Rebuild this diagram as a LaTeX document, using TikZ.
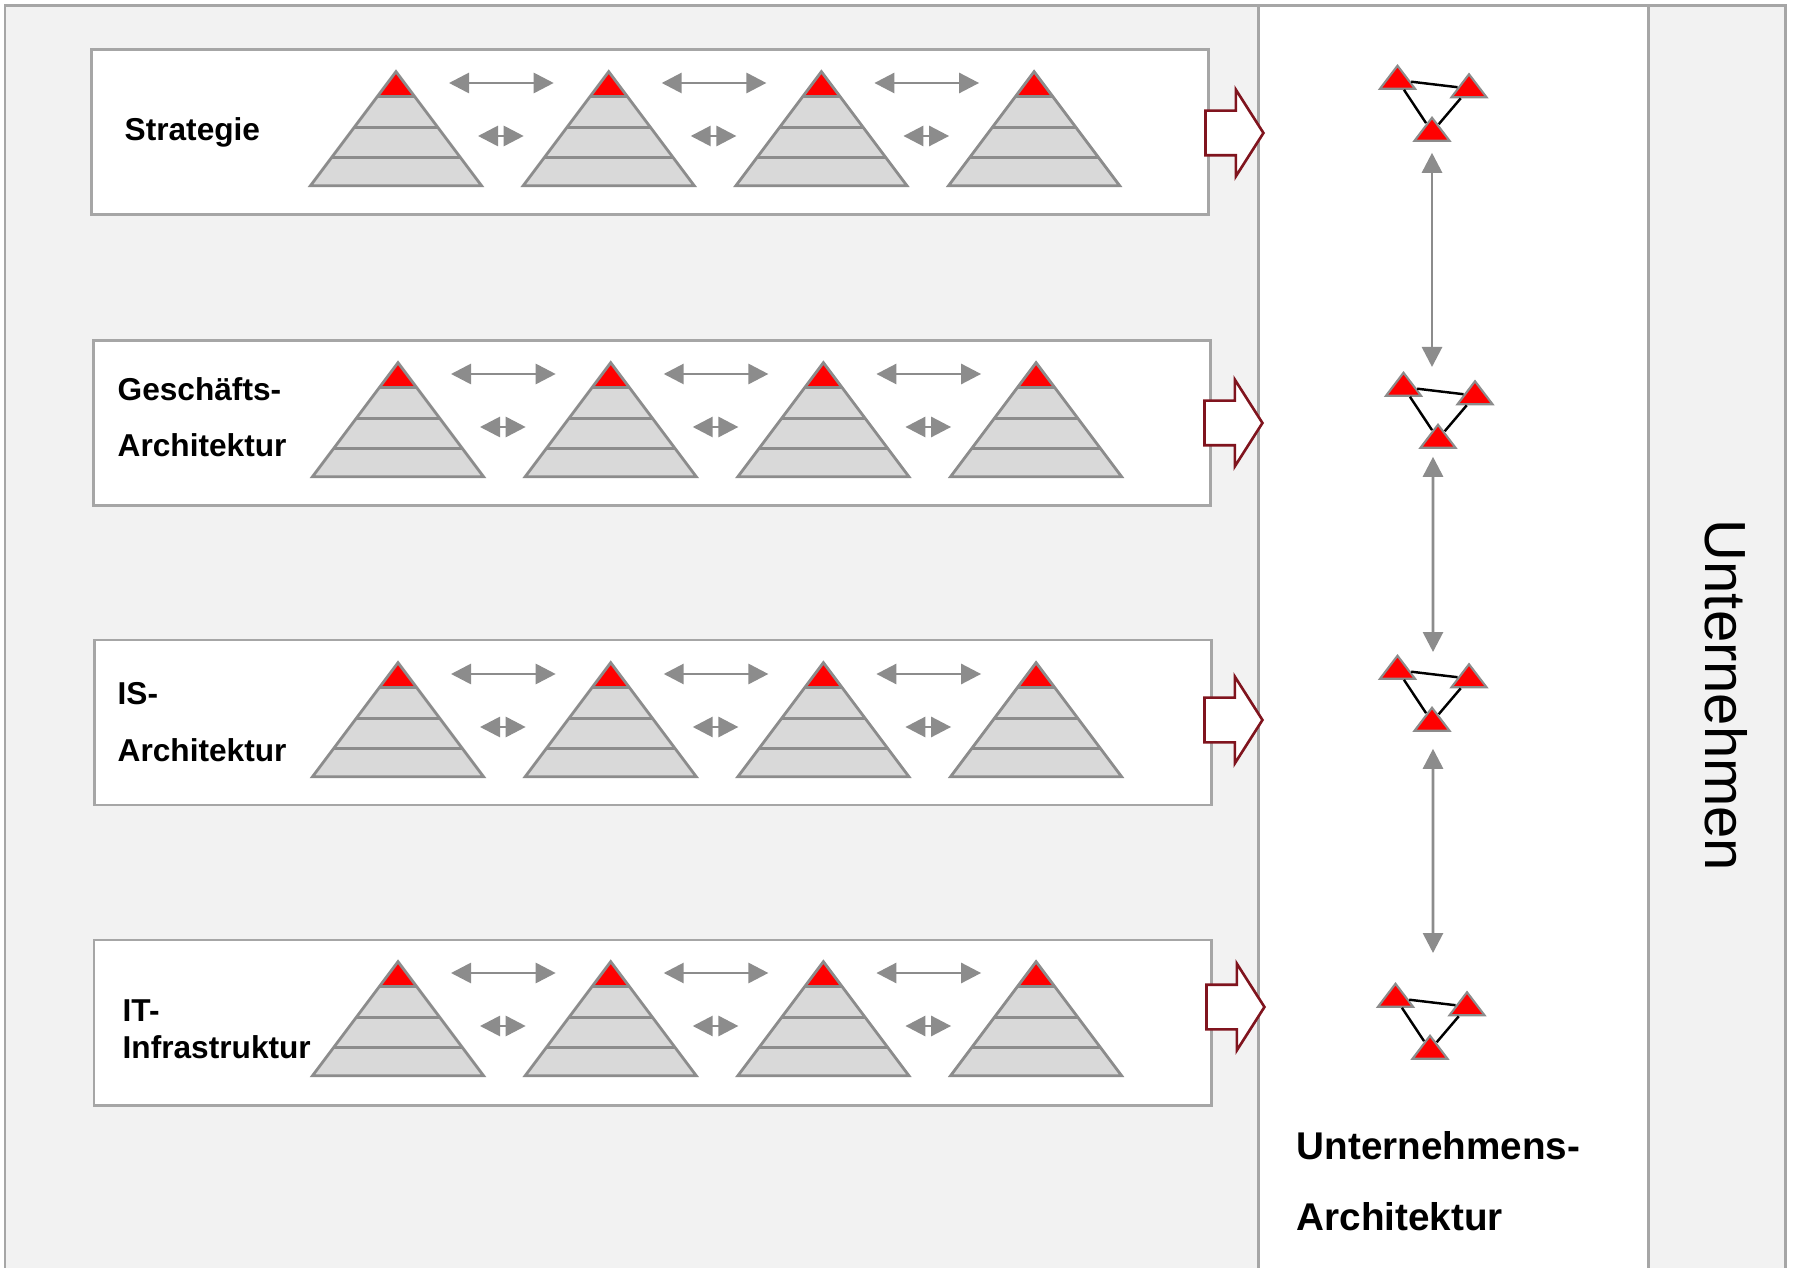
\documentclass[tikz,border=0pt]{standalone}
\usepackage{fontspec}
\setmainfont{Liberation Sans}
\usetikzlibrary{shapes.geometric,shapes.arrows,arrows.meta,calc,positioning}
\definecolor{framegray}{RGB}{166,166,166}
\definecolor{bggray}{RGB}{242,242,242}
\definecolor{pyrfill}{RGB}{217,217,217}
\definecolor{pyrline}{RGB}{140,140,140}
\definecolor{arrgray}{RGB}{140,140,140}
\definecolor{darkred}{RGB}{128,20,30}
\tikzset{
    >={Triangle[length=2mm,width=2mm]},
    frame/.style={draw=framegray, line width=0.85pt},
    rowbox/.style={rectangle, frame, fill=white, minimum width=11.17cm, minimum height=1.65cm, inner sep=0pt},
    pyr/.style={isosceles triangle, isosceles triangle stretches, shape border rotate=90,
        minimum width=1.71cm, minimum height=1.14cm, inner sep=0pt, anchor=apex,
        fill=pyrfill, draw=pyrline, line width=0.8pt,
        path picture={
            \fill[red] ([shift={(-1,0.1)}]path picture bounding box.north) rectangle ([shift={(1,-0.245)}]path picture bounding box.north);
            \foreach \d in {0.245,0.555,0.855}
                \draw[pyrline, line width=0.8pt] ([shift={(-1,-\d)}]path picture bounding box.north) -- ++(2,0);
        }},
    tri/.style={isosceles triangle, isosceles triangle stretches, shape border rotate=90,
        minimum width=0.35cm, minimum height=0.23cm, inner sep=0pt, anchor=apex,
        fill=red, draw=pyrline, line width=0.6pt},
    biarr/.style={<->, draw=arrgray, line width=0.8pt},
    bigarr/.style={single arrow, draw=darkred, fill=white, line width=0.75pt, minimum height=0.58cm,
        inner xsep=0pt, inner ysep=0.21cm, single arrow head extend=0.21cm, single arrow tip angle=115, anchor=tip},
    lbl/.style={anchor=base west, align=left, inner sep=0pt, font=\bfseries\fontsize{9}{16}\selectfont}
}
\begin{document}
\begin{tikzpicture}
    \useasboundingbox (0,0) rectangle (17.93,-12.68);
    % frames
    \draw[frame, fill=bggray] (0.05,-0.06) rectangle (17.85,-12.8);
    \draw[frame, fill=white] (12.58,-0.06) rectangle (16.48,-12.8);

    \node[rowbox] (r1) at (6.50,-1.325) {};
    \node[rowbox] (r2) at (6.52,-4.23) {};
    \node[rowbox] (r3) at (6.53,-7.225) {};
    \node[rowbox] (r4) at (6.525,-10.225) {};

    \node[bigarr] (b1) at (12.65,-1.33) {};
    \node[bigarr] (b2) at (12.64,-4.23) {};
    \node[bigarr] (b3) at (12.64,-7.20) {};
    \node[bigarr] (b4) at (12.66,-10.07) {};

    % pyramids
    \foreach \r/\x/\y in {1/3.96/0.68, 2/3.98/3.59, 3/3.98/6.59, 4/3.98/9.58}{
        \foreach \c in {1,...,4}
            \node[pyr] (p\r\c) at ({\x+2.127*(\c-1)},-\y) {};
        \foreach \c [evaluate=\c as \nx using int(\c+1)] in {1,2,3}{
            \draw[biarr] ([shift={(0.53,-0.15)}]p\r\c.apex) -- ([shift={(-0.55,-0.15)}]p\r\nx.apex);
            \draw[biarr] ([shift={(0.82,-0.68)}]p\r\c.apex) -- ([shift={(-0.85,-0.68)}]p\r\nx.apex);
        }
    }

    % enterprise architecture
    \foreach \r/\x/\y in {1/14.32/1.15, 2/14.38/4.22, 3/14.32/7.05, 4/14.30/10.33}{
        \node[tri] (c\r) at (\x,-\y) {};
        \node[tri] (a\r) at ($(c\r.apex)+(-0.345,0.52)$) {};
        \node[tri] (b\r) at ($(c\r.apex)+(0.37,0.435)$) {};
        \draw[line width=0.7pt] (a\r) -- (b\r);
        \draw[line width=0.7pt] (a\r) -- (c\r);
        \draw[line width=0.7pt] (b\r) -- (c\r);
    }
    \draw[biarr] ([yshift=-1.1mm]c1.lower side) -- ([shift={(0,0.55)}]c2.apex -| c1.lower side);
    \draw[biarr] ([shift={(-0.05,-0.08)}]c2.lower side) -- ([shift={(0.01,0.53)}]c3.apex);
    \draw[biarr] ([shift={(0.01,-0.17)}]c3.lower side) -- ([shift={(0.03,0.80)}]c4.apex);

    % labels
    \node[lbl] (lstr) at (1.24,-1.41) {Strategie};
    \node[lbl] (lges) at (1.17,-4.57) {Geschäfts-\\Architektur};
    \node[lbl] (lis) at (1.17,-7.61) {IS-\\Architektur};
    \node[lbl, font=\bfseries\fontsize{9}{10.3}\selectfont] (lit) at (1.22,-10.58) {IT-\\Infrastruktur};
    \node[lbl, font=\bfseries\fontsize{11}{20.2}\selectfont] (lua) at (12.96,-12.30) {Unternehmens-\\Architektur};
    \node[rotate=-90, inner sep=0pt, font=\fontsize{16.5}{20}\selectfont] (lun) at (17.265,-6.955) {Unternehmen};
\end{tikzpicture}
\end{document}
